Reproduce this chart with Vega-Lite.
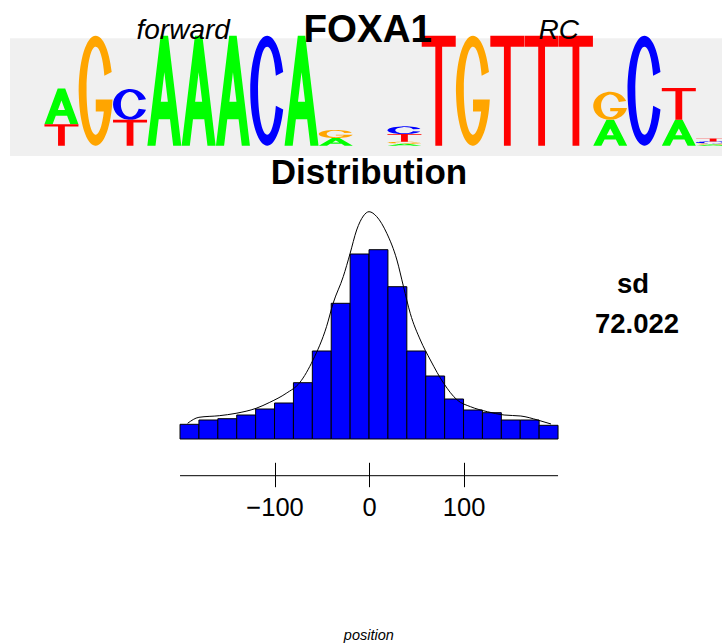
{
  "$schema": "https://vega.github.io/schema/vega-lite/v6.json",
  "width": 722,
  "height": 644,
  "autosize": "none",
  "padding": 0,
  "background": "white",
  "config": {"view": {"stroke": null}, "font": "Liberation Sans"},
  "datasets": {
    "logo": [
      {"pos": 1, "letter": "T", "bits": 0.39}, {"pos": 1, "letter": "A", "bits": 0.65},
      {"pos": 2, "letter": "G", "bits": 2},
      {"pos": 3, "letter": "T", "bits": 0.47}, {"pos": 3, "letter": "C", "bits": 0.56},
      {"pos": 4, "letter": "A", "bits": 2},
      {"pos": 5, "letter": "A", "bits": 2},
      {"pos": 6, "letter": "A", "bits": 2},
      {"pos": 7, "letter": "C", "bits": 2},
      {"pos": 8, "letter": "A", "bits": 2},
      {"pos": 9, "letter": "A", "bits": 0.14}, {"pos": 9, "letter": "G", "bits": 0.145},
      {"pos": 11, "letter": "A", "bits": 0.035}, {"pos": 11, "letter": "G", "bits": 0.036}, {"pos": 11, "letter": "T", "bits": 0.14}, {"pos": 11, "letter": "C", "bits": 0.141},
      {"pos": 12, "letter": "T", "bits": 2},
      {"pos": 13, "letter": "G", "bits": 2},
      {"pos": 14, "letter": "T", "bits": 2},
      {"pos": 15, "letter": "T", "bits": 2},
      {"pos": 16, "letter": "T", "bits": 2},
      {"pos": 17, "letter": "A", "bits": 0.47}, {"pos": 17, "letter": "G", "bits": 0.51},
      {"pos": 18, "letter": "C", "bits": 2},
      {"pos": 19, "letter": "A", "bits": 0.47}, {"pos": 19, "letter": "T", "bits": 0.58},
      {"pos": 20, "letter": "A", "bits": 0.02}, {"pos": 20, "letter": "G", "bits": 0.022}, {"pos": 20, "letter": "C", "bits": 0.035}, {"pos": 20, "letter": "T", "bits": 0.055}
    ],
    "bins": [
      {"start": -200, "end": -180, "density": 0.000588},
      {"start": -180, "end": -160, "density": 0.00076},
      {"start": -160, "end": -140, "density": 0.000812},
      {"start": -140, "end": -120, "density": 0.00096},
      {"start": -120, "end": -100, "density": 0.0012},
      {"start": -100, "end": -80, "density": 0.00144},
      {"start": -80, "end": -60, "density": 0.002252},
      {"start": -60, "end": -40, "density": 0.00352},
      {"start": -40, "end": -20, "density": 0.005428},
      {"start": -20, "end": 0, "density": 0.0074},
      {"start": 0, "end": 20, "density": 0.007572},
      {"start": 20, "end": 40, "density": 0.006092},
      {"start": 40, "end": 60, "density": 0.00352},
      {"start": 60, "end": 80, "density": 0.00252},
      {"start": 80, "end": 100, "density": 0.0016},
      {"start": 100, "end": 120, "density": 0.00116},
      {"start": 120, "end": 140, "density": 0.001052},
      {"start": 140, "end": 160, "density": 0.00076},
      {"start": 160, "end": 180, "density": 0.00076},
      {"start": 180, "end": 200, "density": 0.000548}
    ],
    "curve": [
      {"position": -192, "density": 0.000628},
      {"position": -180, "density": 0.000868},
      {"position": -158.5, "density": 0.000932},
      {"position": -140.7, "density": 0.001028},
      {"position": -119.5, "density": 0.001228},
      {"position": -105, "density": 0.001468},
      {"position": -87.6, "density": 0.001828},
      {"position": -73.4, "density": 0.002252},
      {"position": -59.3, "density": 0.00316},
      {"position": -45, "density": 0.004492},
      {"position": -38, "density": 0.005428},
      {"position": -27.3, "density": 0.006492},
      {"position": -20.2, "density": 0.0074},
      {"position": -13.1, "density": 0.00836},
      {"position": -6, "density": 0.00892},
      {"position": 0, "density": 0.009092},
      {"position": 8.2, "density": 0.008892},
      {"position": 18.8, "density": 0.008228},
      {"position": 29.5, "density": 0.00716},
      {"position": 36.5, "density": 0.006092},
      {"position": 43.6, "density": 0.005028},
      {"position": 54.3, "density": 0.00396},
      {"position": 64.9, "density": 0.00316},
      {"position": 79, "density": 0.002228},
      {"position": 93.3, "density": 0.00156},
      {"position": 107.4, "density": 0.001292},
      {"position": 125.2, "density": 0.001092},
      {"position": 142.9, "density": 0.00096},
      {"position": 160.6, "density": 0.00092},
      {"position": 178.4, "density": 0.00076},
      {"position": 192.6, "density": 0.0006}
    ]
  },
  "resolve": {"scale": {"x": "independent", "y": "independent"}, "axis": {"x": "independent", "y": "independent"}},
  "layer": [
    {
      "layer": [
        {
          "data": {"values": [{}]},
          "mark": {"type": "rect", "color": "#f0f0f0"},
          "encoding": {
            "x": {"datum": -0.5, "type": "quantitative", "scale": {"domain": [-0.7915, 20.259], "nice": false, "zero": false}, "axis": null},
            "x2": {"datum": 20.5},
            "y": {"datum": -0.187, "type": "quantitative", "scale": {"domain": [-9.06, 2.649], "nice": false, "zero": false}, "axis": null},
            "y2": {"datum": 1.953}
          }
        },
        {
          "data": {"name": "logo"},
          "transform": [{"stack": "bits", "groupby": ["pos"], "sort": [{"field": "bits", "order": "ascending"}], "as": ["b0", "b1"]}],
          "resolve": {"scale": {"shape": "independent"}},
          "layer": [
            {
              "transform": [{"filter": {"field": "letter", "equal": "A"}}],
              "mark": {"type": "point", "filled": true, "opacity": 1, "size": 4, "color": "#00ff00", "strokeWidth": 0},
              "encoding": {
                "x": {"field": "pos", "type": "quantitative", "scale": {"domain": [-0.7915, 20.259], "nice": false, "zero": false}, "axis": null},
                "y": {"field": "b0", "type": "quantitative", "scale": {"domain": [-9.06, 2.649], "nice": false, "zero": false}, "axis": null},
                "shape": {"field": "bits", "type": "nominal", "legend": null, "scale": {
                  "domain": [2, 0.65, 0.14, 0.035, 0.47, 0.02],
                  "range": [
                    "M -17 0 L -3.74 -110 L 3.74 -110 L 17 0 L 8.84 0 L 5.64 -26.4 L -5.64 -26.4 L -8.84 0 Z M -3.54 -44 L 3.54 -44 L 0 -73.37 Z",
                    "M -17 0 L -3.74 -35.75 L 3.74 -35.75 L 17 0 L 8.84 0 L 5.64 -8.58 L -5.64 -8.58 L -8.84 0 Z M -3.54 -14.3 L 3.54 -14.3 L 0 -23.85 Z",
                    "M -17 0 L -3.74 -7.7 L 3.74 -7.7 L 17 0 L 8.84 0 L 5.64 -1.85 L -5.64 -1.85 L -8.84 0 Z M -3.54 -3.08 L 3.54 -3.08 L 0 -5.14 Z",
                    "M -17 0 L -3.74 -1.93 L 3.74 -1.93 L 17 0 L 8.84 0 L 5.64 -0.46 L -5.64 -0.46 L -8.84 0 Z M -3.54 -0.77 L 3.54 -0.77 L 0 -1.28 Z",
                    "M -17 0 L -3.74 -25.85 L 3.74 -25.85 L 17 0 L 8.84 0 L 5.64 -6.2 L -5.64 -6.2 L -8.84 0 Z M -3.54 -10.34 L 3.54 -10.34 L 0 -17.24 Z",
                    "M -17 0 L -3.74 -1.1 L 3.74 -1.1 L 17 0 L 8.84 0 L 5.64 -0.26 L -5.64 -0.26 L -8.84 0 Z M -3.54 -0.44 L 3.54 -0.44 L 0 -0.73 Z"
                  ]}}
              }
            },
            {
              "transform": [{"filter": {"field": "letter", "equal": "C"}}],
              "mark": {"type": "point", "filled": true, "opacity": 1, "size": 4, "color": "#0000ff", "strokeWidth": 0},
              "encoding": {
                "x": {"field": "pos", "type": "quantitative", "scale": {"domain": [-0.7915, 20.259], "nice": false, "zero": false}, "axis": null},
                "y": {"field": "b0", "type": "quantitative", "scale": {"domain": [-9.06, 2.649], "nice": false, "zero": false}, "axis": null},
                "shape": {"field": "bits", "type": "nominal", "legend": null, "scale": {
                  "domain": [2, 0.56, 0.141, 0.035],
                  "range": [
                    "M 15.97 -73.81 A 17 55 0 1 0 15.97 -36.19 L 8.63 -39.95 A 9.18 44 0 1 1 8.63 -70.05 Z",
                    "M 15.97 -20.67 A 17 15.4 0 1 0 15.97 -10.13 L 8.63 -11.19 A 9.18 12.32 0 1 1 8.63 -19.61 Z",
                    "M 15.97 -5.2 A 17 3.878 0 1 0 15.97 -2.551 L 8.63 -2.817 A 9.18 3.102 0 1 1 8.63 -4.938 Z",
                    "M 15.97 -1.292 A 17 0.9625 0 1 0 15.97 -0.633 L 8.63 -0.699 A 9.18 0.77 0 1 1 8.63 -1.226 Z"
                  ]}}
              }
            },
            {
              "transform": [{"filter": {"field": "letter", "equal": "G"}}],
              "mark": {"type": "point", "filled": true, "opacity": 1, "size": 4, "color": "#ffa500", "strokeWidth": 0},
              "encoding": {
                "x": {"field": "pos", "type": "quantitative", "scale": {"domain": [-0.7915, 20.259], "nice": false, "zero": false}, "axis": null},
                "y": {"field": "b0", "type": "quantitative", "scale": {"domain": [-9.06, 2.649], "nice": false, "zero": false}, "axis": null},
                "shape": {"field": "bits", "type": "nominal", "legend": null, "scale": {
                  "domain": [2, 0.145, 0.036, 0.51, 0.022],
                  "range": [
                    "M 15.97 -73.81 A 17 55 0 1 0 16.78 -46.2 L 0 -46.2 L 0 -34.1 L 8.08 -34.1 A 9.18 44 0 1 1 8.63 -70.05 Z",
                    "M 15.97 -5.35 A 17 3.99 0 1 0 16.78 -3.35 L 0 -3.35 L 0 -2.47 L 8.08 -2.47 A 9.18 3.19 0 1 1 8.63 -5.08 Z",
                    "M 15.97 -1.33 A 17 0.99 0 1 0 16.78 -0.83 L 0 -0.83 L 0 -0.61 L 8.08 -0.61 A 9.18 0.79 0 1 1 8.63 -1.26 Z",
                    "M 15.97 -18.82 A 17 14.03 0 1 0 16.78 -11.78 L 0 -11.78 L 0 -8.7 L 8.08 -8.7 A 9.18 11.22 0 1 1 8.63 -17.86 Z",
                    "M 15.97 -0.81 A 17 0.605 0 1 0 16.78 -0.51 L 0 -0.51 L 0 -0.375 L 8.08 -0.375 A 9.18 0.484 0 1 1 8.63 -0.77 Z"
                  ]}}
              }
            },
            {
              "transform": [{"filter": {"field": "letter", "equal": "T"}}],
              "mark": {"type": "point", "filled": true, "opacity": 1, "size": 4, "color": "#ff0000", "strokeWidth": 0},
              "encoding": {
                "x": {"field": "pos", "type": "quantitative", "scale": {"domain": [-0.7915, 20.259], "nice": false, "zero": false}, "axis": null},
                "y": {"field": "b0", "type": "quantitative", "scale": {"domain": [-9.06, 2.649], "nice": false, "zero": false}, "axis": null},
                "shape": {"field": "bits", "type": "nominal", "legend": null, "scale": {
                  "domain": [2, 0.39, 0.47, 0.14, 0.58, 0.055],
                  "range": [
                    "M -17 -110 L 17 -110 L 17 -99 L 3.4 -99 L 3.4 0 L -3.4 0 L -3.4 -99 L -17 -99 Z",
                    "M -17 -21.45 L 17 -21.45 L 17 -19.31 L 3.4 -19.31 L 3.4 0 L -3.4 0 L -3.4 -19.31 L -17 -19.31 Z",
                    "M -17 -25.85 L 17 -25.85 L 17 -23.27 L 3.4 -23.27 L 3.4 0 L -3.4 0 L -3.4 -23.27 L -17 -23.27 Z",
                    "M -17 -7.7 L 17 -7.7 L 17 -6.93 L 3.4 -6.93 L 3.4 0 L -3.4 0 L -3.4 -6.93 L -17 -6.93 Z",
                    "M -17 -31.9 L 17 -31.9 L 17 -28.71 L 3.4 -28.71 L 3.4 0 L -3.4 0 L -3.4 -28.71 L -17 -28.71 Z",
                    "M -17 -3.03 L 17 -3.03 L 17 -2.73 L 3.4 -2.73 L 3.4 0 L -3.4 0 L -3.4 -2.73 L -17 -2.73 Z"
                  ]}}
              }
            }
          ]
        },
        {
          "data": {"values": [{}]},
          "mark": {"type": "text", "text": "forward", "fontSize": 28, "fontStyle": "italic", "font": "Liberation Sans", "align": "center", "baseline": "alphabetic", "color": "black"},
          "encoding": {
            "x": {"datum": 4.55, "type": "quantitative", "scale": {"domain": [-0.7915, 20.259], "nice": false, "zero": false}, "axis": null},
            "y": {"datum": 1.935, "type": "quantitative", "scale": {"domain": [-9.06, 2.649], "nice": false, "zero": false}, "axis": null}
          }
        },
        {
          "data": {"values": [{}]},
          "mark": {"type": "text", "text": "RC", "fontSize": 28, "fontStyle": "italic", "font": "Liberation Sans", "align": "center", "baseline": "alphabetic", "color": "black"},
          "encoding": {
            "x": {"datum": 15.5, "type": "quantitative", "scale": {"domain": [-0.7915, 20.259], "nice": false, "zero": false}, "axis": null},
            "y": {"datum": 1.935, "type": "quantitative", "scale": {"domain": [-9.06, 2.649], "nice": false, "zero": false}, "axis": null}
          }
        },
        {
          "data": {"values": [{}]},
          "mark": {"type": "text", "text": "FOXA1", "fontSize": 38.5, "fontWeight": "bold", "font": "Liberation Sans", "align": "center", "baseline": "alphabetic", "color": "black"},
          "encoding": {
            "x": {"datum": 9.93, "type": "quantitative", "scale": {"domain": [-0.7915, 20.259], "nice": false, "zero": false}, "axis": null},
            "y": {"datum": 1.891, "type": "quantitative", "scale": {"domain": [-9.06, 2.649], "nice": false, "zero": false}, "axis": null}
          }
        }
      ]
    },
    {
      "layer": [
        {
          "data": {"name": "bins"},
          "mark": {"type": "rect", "fill": "#0000ff", "stroke": "black", "strokeWidth": 1},
          "encoding": {
            "x": {"field": "start", "type": "quantitative", "scale": {"domain": [-390.5, 373.5], "nice": false, "zero": false},
              "axis": {"orient": "bottom", "offset": -181.7, "values": [-100, 0, 100], "domain": false, "grid": false, "ticks": true, "tickSize": 24.4, "tickColor": "black", "tickWidth": 1, "labelFontSize": 25.5, "labelFont": "Liberation Sans", "labelColor": "black", "labelPadding": 9, "title": null}},
            "x2": {"field": "end"},
            "y": {"field": "density", "type": "quantitative", "scale": {"domain": [-0.0082, 0.01756], "nice": false, "zero": false}, "axis": null},
            "y2": {"datum": 0}
          }
        },
        {
          "data": {"name": "curve"},
          "mark": {"type": "line", "color": "black", "strokeWidth": 1, "interpolate": "monotone"},
          "encoding": {
            "x": {"field": "position", "type": "quantitative", "scale": {"domain": [-390.5, 373.5], "nice": false, "zero": false}},
            "y": {"field": "density", "type": "quantitative", "scale": {"domain": [-0.0082, 0.01756], "nice": false, "zero": false}, "axis": null}
          }
        },
        {
          "data": {"values": [{}]},
          "mark": {"type": "rule", "color": "black", "strokeWidth": 1},
          "encoding": {
            "x": {"datum": -200, "type": "quantitative", "scale": {"domain": [-390.5, 373.5], "nice": false, "zero": false}},
            "x2": {"datum": 200},
            "y": {"datum": -0.001468, "type": "quantitative", "scale": {"domain": [-0.0082, 0.01756], "nice": false, "zero": false}, "axis": null}
          }
        },
        {
          "data": {"values": [{}]},
          "mark": {"type": "text", "text": "Distribution", "fontSize": 35, "fontWeight": "bold", "font": "Liberation Sans", "align": "center", "baseline": "alphabetic", "color": "black"},
          "encoding": {
            "x": {"datum": 0, "type": "quantitative", "scale": {"domain": [-390.5, 373.5], "nice": false, "zero": false}},
            "y": {"datum": 0.010188, "type": "quantitative", "scale": {"domain": [-0.0082, 0.01756], "nice": false, "zero": false}, "axis": null}
          }
        },
        {
          "data": {"values": [{}]},
          "mark": {"type": "text", "text": "sd", "fontSize": 27.5, "fontWeight": "bold", "font": "Liberation Sans", "align": "center", "baseline": "alphabetic", "color": "black"},
          "encoding": {
            "x": {"datum": 279.3, "type": "quantitative", "scale": {"domain": [-390.5, 373.5], "nice": false, "zero": false}},
            "y": {"datum": 0.005828, "type": "quantitative", "scale": {"domain": [-0.0082, 0.01756], "nice": false, "zero": false}, "axis": null}
          }
        },
        {
          "data": {"values": [{}]},
          "mark": {"type": "text", "text": "72.022", "fontSize": 27.5, "fontWeight": "bold", "font": "Liberation Sans", "align": "center", "baseline": "alphabetic", "color": "black"},
          "encoding": {
            "x": {"datum": 283.6, "type": "quantitative", "scale": {"domain": [-390.5, 373.5], "nice": false, "zero": false}},
            "y": {"datum": 0.004252, "type": "quantitative", "scale": {"domain": [-0.0082, 0.01756], "nice": false, "zero": false}, "axis": null}
          }
        },
        {
          "data": {"values": [{}]},
          "mark": {"type": "text", "text": "position", "fontSize": 14.5, "fontStyle": "italic", "font": "Liberation Sans", "align": "center", "baseline": "alphabetic", "color": "black"},
          "encoding": {
            "x": {"datum": -0.2, "type": "quantitative", "scale": {"domain": [-390.5, 373.5], "nice": false, "zero": false}},
            "y": {"datum": -0.00804, "type": "quantitative", "scale": {"domain": [-0.0082, 0.01756], "nice": false, "zero": false}, "axis": null}
          }
        }
      ]
    }
  ]
}
